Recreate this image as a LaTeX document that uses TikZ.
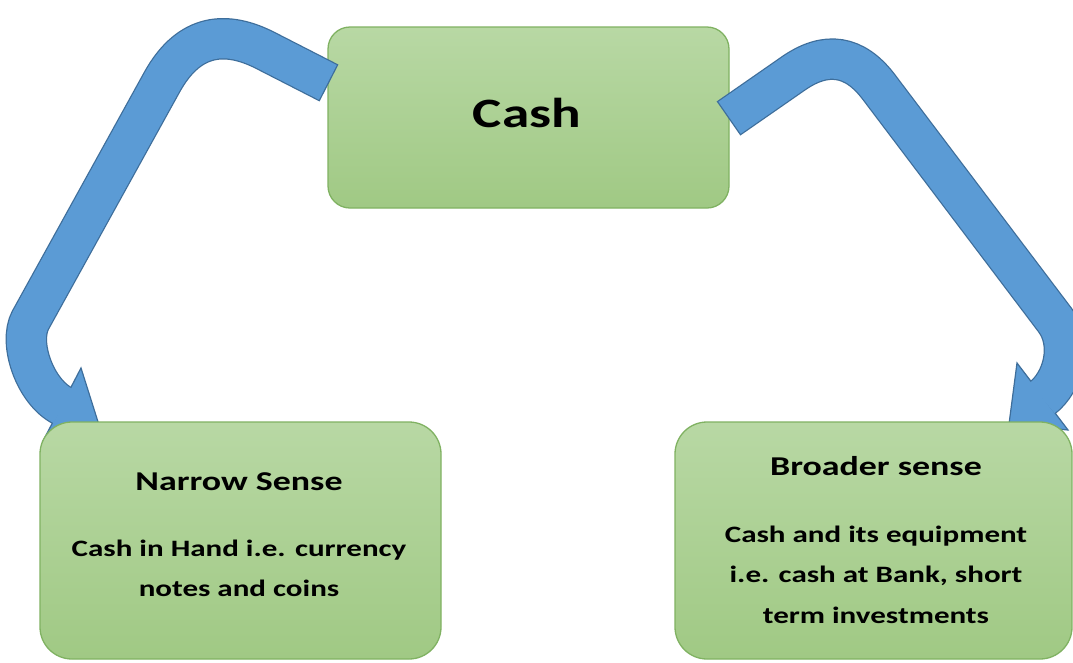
\documentclass[tikz,border=0pt]{standalone}
\usepackage{fontspec}
\usepackage{graphicx}
\setmainfont{Carlito}
\definecolor{gtop}{RGB}{184,216,164}
\definecolor{gbot}{RGB}{160,201,132}
\definecolor{gline}{RGB}{128,178,98}
\definecolor{bfill}{RGB}{91,155,213}
\definecolor{bline}{RGB}{62,110,155}
\newcommand\wide[1]{\scalebox{1.32}[1]{#1}}
\begin{document}
\begin{tikzpicture}[x=1pt,y=-1pt,
  box/.style={draw=gline, line width=1.3pt, top color=gtop, bottom color=gbot, inner sep=0pt},
  bandout/.style={draw=bline, line width=41.5pt},
  bandin/.style={draw=bfill, line width=39pt, shorten <=1.3pt},
  head/.style={fill=bfill, draw=bline, line width=1.2pt, line join=miter},
  title/.style={font=\fontsize{27.2}{32}\selectfont\bfseries, inner sep=0pt, anchor=base},
  body/.style={font=\fontsize{23.5}{39.5}\selectfont\bfseries, inner sep=0pt, anchor=base, align=center},
]
\clip (0,0) rectangle (1073,662);
\fill[white] (0,0) rectangle (1073,662);

% top box
\node[box, rounded corners=22pt, minimum width=401pt, minimum height=181pt] (cash) at (528.5,117.5) {};

% arrow coordinates
\coordinate (lt) at (329,83);
\coordinate (lp1) at (265.3,50.4);
\coordinate (lc1) at (220.8,27.7);
\coordinate (lc2) at (186.4,38.2);
\coordinate (lp2) at (162.1,81.9);
\coordinate (lb) at (30.5,320);
\coordinate (le) at (63,406);
\coordinate (lh1) at (81,368);
\coordinate (lhtip) at (99,425);
\coordinate (lh2) at (43,441);

\coordinate (rt) at (728.5,118.5);
\coordinate (rp1) at (793.4,73.4);
\coordinate (rc1) at (826.2,50.6);
\coordinate (rc2) at (854.7,55.1);
\coordinate (rp2) at (878.8,87);
\coordinate (rb) at (1055,320);
\coordinate (re) at (1041.9,398.2);
\coordinate (rh1) at (1017,363);
\coordinate (rhtip) at (1009,424);
\coordinate (rh2) at (1068,430);

% outlines
\draw[bandout] (lt) -- (lp1) .. controls (lc1) and (lc2) .. (lp2) -- (lb) .. controls (18,343) and (35,392) .. (le);
\draw[bandout] (rt) -- (rp1) .. controls (rc1) and (rc2) .. (rp2) -- (rb) .. controls (1073,344) and (1063.5,382) .. (re);
% heads
\draw[head] (lh1) -- (lhtip) -- (lh2) -- cycle;
\draw[head] (rh1) -- (rhtip) -- (rh2) -- cycle;
% fills
\draw[bandin] (lt) -- (lp1) .. controls (lc1) and (lc2) .. (lp2) -- (lb) .. controls (18,343) and (35,392) .. (le);
\draw[bandin] (rt) -- (rp1) .. controls (rc1) and (rc2) .. (rp2) -- (rb) .. controls (1073,344) and (1063.5,382) .. (re);

% lower boxes
\node[box, rounded corners=32pt, minimum width=401pt, minimum height=237pt] (narrow) at (240.5,540.5) {};
\node[box, rounded corners=32pt, minimum width=397pt, minimum height=237pt] (broad) at (873.5,540.5) {};

% texts
\node[title, font=\fontsize{41.8}{48}\selectfont\bfseries] (cashlbl) at (527,127) {\wide{Cash}};
\node[title] (nt) at (239,490) {\wide{Narrow Sense}};
\node[body] (nb) at (239,596) {\wide{Cash in Hand i.e. currency}\\\wide{notes and coins}};
\node[title] (bt) at (876,475) {\wide{Broader sense}};
\node[body, font=\fontsize{23.5}{40.5}\selectfont\bfseries] (bb) at (876,623) {\wide{Cash and its equipment}\\\wide{i.e. cash at Bank, short}\\\wide{term investments}};
\end{tikzpicture}
\end{document}
